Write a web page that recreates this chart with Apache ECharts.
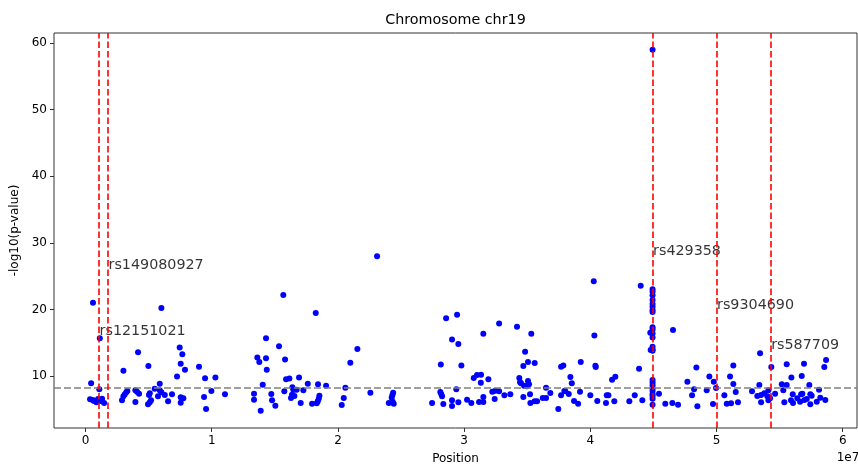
<!DOCTYPE html>
<html>
<head>
<meta charset="utf-8">
<script src="https://cdn.jsdelivr.net/npm/echarts@6/dist/echarts.min.js"></script>
<style>html,body{margin:0;padding:0;background:#fff}#c{width:858px;height:464px}</style>
</head>
<body>
<div id="c"></div>
<script>
// Positions in Mb (axis labels shown in units of 1e7 bp)
const positionsMb = [
0.59,6.01,1.13,4.16,7.46,7.67,7.54,4.98,7.88,3.0,8.99,7.25,9.47,10.29,0.44,5.88,1.09,9.97,11.05,3.31,3.23,3.11,3.0,2.89,3.95,4.08,4.24,5.09,5.03,5.48,5.88,6.01,5.74,6.28,6.85,7.54,7.75,6.54,7.54,5.19,5.09,4.95,3.95,9.39,9.55,0.36,0.57,0.67,0.86,0.99,1.09,1.2,1.31,1.47,
15.67,18.24,14.3,15.33,21.54,13.61,14.3,13.77,15.81,20.98,14.36,15.89,16.15,16.92,14.04,17.61,18.42,19.06,20.59,15.75,16.39,16.47,16.73,17.26,16.36,16.55,16.28,14.72,13.35,13.35,14.78,15.04,13.88,17.05,17.95,18.32,18.4,18.48,18.53,20.46,20.3,22.57,24.37,24.31,24.26,24.03,24.42,24.34,23.1,
28.57,29.44,32.77,34.19,31.52,35.32,29.04,29.54,34.83,28.15,29.78,34.69,35.06,35.59,37.68,37.86,30.76,31.02,31.34,31.32,31.92,34.37,34.43,34.51,35.06,35.14,34.75,34.96,36.49,28.11,28.19,28.25,27.46,28.35,29.04,29.04,29.54,29.38,30.23,30.57,31.18,31.52,31.52,32.23,32.47,32.77,32.42,33.19,33.66,34.69,35.22,35.25,35.59,35.78,36.23,36.49,36.83,37.68,37.46,37.94,
40.27,43.99,
44.93,44.93,44.93,44.93,44.93,44.93,44.93,44.93,44.93,44.93,44.93,44.93,44.93,44.93,44.93,44.93,44.93,44.93,44.93,44.93,44.93,44.93,44.93,44.93,44.93,
44.75,44.78,46.55,40.32,39.24,40.4,40.43,43.86,41.72,41.98,38.42,38.53,47.69,48.4,49.43,49.78,48.22,48.06,49.22,48.48,49.72,45.44,45.94,46.5,46.95,38.02,38.29,38.71,39.03,39.18,40.0,40.55,41.3,41.43,41.24,41.9,43.09,43.52,44.12,50.62,
53.45,51.33,54.34,55.56,56.93,58.68,58.54,51.07,55.93,56.75,51.33,51.52,49.96,50.81,51.15,51.7,52.81,53.23,53.53,53.79,54.03,54.11,53.39,53.53,54.11,54.24,54.64,55.17,55.56,55.29,55.37,55.9,56.06,56.04,56.4,56.62,56.7,56.8,56.96,57.15,57.35,57.43,57.54,57.43,57.94,58.12,58.22,58.62
];
const log10p = [
21.0,20.2,15.66,13.56,14.3,13.26,11.85,11.5,10.95,10.8,11.4,9.95,9.66,9.8,8.9,8.84,8.0,7.75,7.25,7.75,7.55,7.25,6.95,6.35,7.85,7.64,7.34,7.4,7.15,8.1,7.85,7.55,6.95,7.15,7.25,6.8,6.65,6.2,6.0,6.35,6.05,5.75,6.1,6.85,5.05,6.5,6.4,6.25,6.05,6.55,6.4,6.25,6.6,5.95,
22.16,19.46,15.66,14.46,14.05,12.8,12.66,12.1,12.5,12.0,10.95,9.5,9.65,9.8,8.7,8.85,8.75,8.55,8.25,7.7,8.3,7.9,7.95,7.85,7.2,7.0,6.7,7.3,7.35,6.45,6.35,5.54,4.8,5.95,5.85,5.9,6.2,6.6,7.05,6.7,5.65,7.5,7.5,7.1,6.75,5.95,5.85,6.15,28.0,
18.66,19.2,17.9,17.4,16.35,16.35,15.5,14.8,13.65,11.75,11.6,11.5,12.1,11.95,11.4,11.6,9.7,10.15,10.2,9.0,9.5,9.7,9.05,8.9,9.25,8.75,8.55,8.45,8.25,7.6,7.25,6.95,5.95,5.8,6.35,5.5,6.05,8.0,6.45,5.95,6.1,6.1,6.85,7.65,7.8,7.7,6.55,7.1,7.25,6.85,7.25,5.95,6.2,6.2,6.7,6.7,7.45,7.1,5.05,7.75,
24.22,23.56,
59.0,23.02,22.66,22.12,21.41,20.81,20.41,19.91,19.61,17.31,17.0,16.4,15.8,14.4,14.0,13.8,9.4,9.0,8.6,8.15,7.8,7.3,7.0,6.6,5.7,
16.5,13.9,16.9,16.1,12.1,11.55,11.35,11.1,9.45,9.9,9.85,8.9,9.15,11.3,9.95,9.15,8.0,7.1,7.85,5.45,5.8,7.35,5.84,5.95,5.7,7.7,7.3,6.25,5.85,7.65,7.1,6.25,7.1,7.1,5.95,6.2,6.2,7.1,6.35,7.1,
13.41,11.6,11.35,11.76,11.85,12.4,11.35,9.95,9.8,10.0,8.8,7.6,8.2,5.85,5.9,6.05,7.7,7.0,7.15,7.4,6.95,7.85,8.65,6.05,6.35,6.65,7.35,8.75,8.65,7.85,6.05,6.35,5.95,7.25,6.65,6.15,7.25,7.35,6.4,6.55,8.65,7.25,7.05,5.75,6.15,7.95,6.75,6.4
];
const snpNames = ['rs12151021','rs149080927','rs429358','rs9304690','rs587709'];
const snpPosMb = [1.07, 1.78, 44.93, 50.0, 54.29];
const snpLabelY = [16.76, 26.67, 28.77, 20.66, 14.65];
const threshold = 8.3;
const xTicks = [0,10,20,30,40,50,60];
const yTicks = [10,20,30,40,50,60];

const points = positionsMb.map((p,i)=>[p, log10p[i]]);
const labels = snpNames.map((n,i)=>[snpPosMb[i], snpLabelY[i], n]);

const chart = echarts.init(document.getElementById('c'), null, {renderer:'canvas'});
const font = 'DejaVu Sans';
chart.setOption({
  animation:false,
  grid:{left:54, right:1, top:33, bottom:36, outerBoundsMode:'none', containLabel:false, show:true, borderColor:'#333', borderWidth:1, backgroundColor:'transparent'},
  xAxis:{
    type:'value', min:-2.5, max:61.13,
    name:'Position', nameLocation:'middle', nameGap:25,
    nameTextStyle:{fontFamily:font, fontSize:12, color:'#000'},
    axisLine:{show:false, onZero:false},
    splitLine:{show:false},
    axisTick:{show:true, length:4, customValues:xTicks, lineStyle:{color:'#333'}},
    axisLabel:{customValues:xTicks, formatter:v=>String(v/10), fontFamily:font, fontSize:12, color:'#000', margin:7}
  },
  yAxis:{
    type:'value', min:2.2, max:61.5,
    name:'-log10(p-value)', nameLocation:'middle', nameGap:31, nameRotate:90,
    nameTextStyle:{fontFamily:font, fontSize:12, color:'#000'},
    axisLine:{show:false, onZero:false},
    splitLine:{show:false},
    axisTick:{show:true, length:4, customValues:yTicks, lineStyle:{color:'#333'}},
    axisLabel:{customValues:yTicks, fontFamily:font, fontSize:12, color:'#000', margin:7}
  },
  graphic:[
    {type:'text', x:455.5, y:20, style:{text:'Chromosome chr19', font:'14.3px "DejaVu Sans"', fill:'#000', textAlign:'center', textVerticalAlign:'middle'}},
    {type:'text', x:848, y:458, style:{text:'1e7', font:'12px "DejaVu Sans"', fill:'#000', textAlign:'center', textVerticalAlign:'middle'}}
  ],
  series:[
    {
      type:'scatter', data:points, symbolSize:6,
      itemStyle:{color:'#0000ff', opacity:1},
      z:3,
      markLine:{
        silent:true, symbol:'none', label:{show:false}, animation:false,
        data:[
          {yAxis:threshold, lineStyle:{color:'#808080', type:[7,3], width:1.5}},
          ...snpPosMb.map(p=>({xAxis:p, lineStyle:{color:'#ff0000', type:[6.6,2.9], width:1.6}}))
        ]
      }
    },
    {
      type:'scatter', data:labels, symbolSize:1, z:4,
      itemStyle:{color:'rgba(0,0,0,0)'},
      label:{show:true, position:'right', distance:0, formatter:p=>p.data[2], fontFamily:font, fontSize:14.3, color:'#000'}
    }
  ]
});
</script>
</body>
</html>
